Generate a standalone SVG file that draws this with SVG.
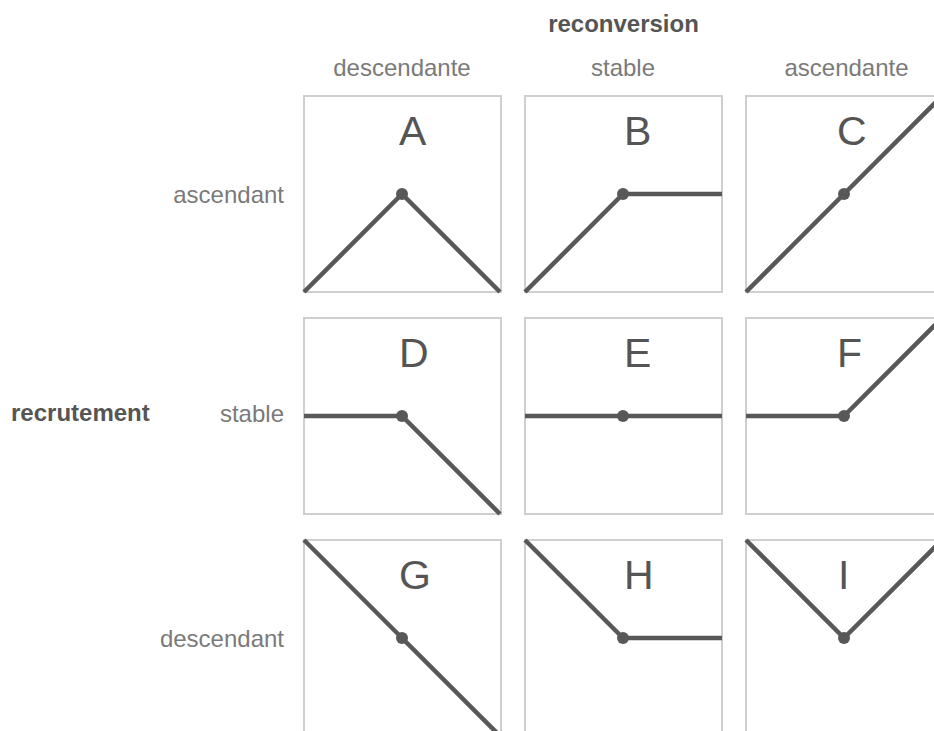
<svg xmlns="http://www.w3.org/2000/svg" width="934" height="731" viewBox="0 0 934 731">
<style>
.bg{fill:#ffffff}
.box{fill:#ffffff;stroke:#cfcfcf;stroke-width:2}
.ln{fill:none;stroke:#585858;stroke-width:4.5;stroke-linejoin:round;stroke-linecap:butt}
.dot{fill:#585858}
.lbl{font-family:"Liberation Sans",Arial,sans-serif;font-size:24px;fill:#7a7a7a}
.ttl{font-family:"Liberation Sans",Arial,sans-serif;font-size:24px;font-weight:bold;fill:#555555}
.let{font-family:"Liberation Sans",Arial,sans-serif;font-size:41px;fill:#555555}
</style>
<rect class="bg" x="0" y="0" width="934" height="731"/>
<g id="headers">
<text class="ttl" x="623.5" y="32" text-anchor="middle">reconversion</text>
<text class="lbl" x="402" y="76" text-anchor="middle">descendante</text>
<text class="lbl" x="623" y="76" text-anchor="middle">stable</text>
<text class="lbl" x="846.5" y="76" text-anchor="middle">ascendante</text>
<text class="ttl" x="11" y="421">recrutement</text>
<text class="lbl" x="284" y="203" text-anchor="end">ascendant</text>
<text class="lbl" x="284" y="422" text-anchor="end">stable</text>
<text class="lbl" x="284" y="647" text-anchor="end">descendant</text>
</g>
<g id="A"><rect class="box" x="304" y="96" width="197" height="196"/><text class="let" x="399" y="145">A</text></g>
<g id="B"><rect class="box" x="525" y="96" width="197" height="196"/><text class="let" x="624" y="145">B</text></g>
<g id="C"><rect class="box" x="746" y="96" width="197" height="196"/><text class="let" x="837" y="145">C</text></g>
<g id="D"><rect class="box" x="304" y="318" width="197" height="196"/><text class="let" x="399" y="367">D</text></g>
<g id="E"><rect class="box" x="525" y="318" width="197" height="196"/><text class="let" x="624" y="367">E</text></g>
<g id="F"><rect class="box" x="746" y="318" width="197" height="196"/><text class="let" x="837" y="367">F</text></g>
<g id="G"><rect class="box" x="304" y="540" width="197" height="196"/><text class="let" x="399" y="589">G</text></g>
<g id="H"><rect class="box" x="525" y="540" width="197" height="196"/><text class="let" x="624" y="589">H</text></g>
<g id="I"><rect class="box" x="746" y="540" width="197" height="196"/><text class="let" x="838" y="589">I</text></g>
<g id="connectors">
<polyline class="ln" points="304,292 402,194 500,292"/>
<polyline class="ln" points="525,292 623,194 722,194"/>
<polyline class="ln" points="746,292 844,194 944,94"/>
<polyline class="ln" points="304,416 402,416 500,514"/>
<polyline class="ln" points="525,416 623,416 722,416"/>
<polyline class="ln" points="746,416 844,416 944,316"/>
<polyline class="ln" points="304,540 402,638 500,736"/>
<polyline class="ln" points="525,540 623,638 722,638"/>
<polyline class="ln" points="746,540 844,638 944,538"/>
<circle class="dot" cx="402" cy="194" r="6"/>
<circle class="dot" cx="623" cy="194" r="6"/>
<circle class="dot" cx="844" cy="194" r="6"/>
<circle class="dot" cx="402" cy="416" r="6"/>
<circle class="dot" cx="623" cy="416" r="6"/>
<circle class="dot" cx="844" cy="416" r="6"/>
<circle class="dot" cx="402" cy="638" r="6"/>
<circle class="dot" cx="623" cy="638" r="6"/>
<circle class="dot" cx="844" cy="638" r="6"/>
</g>
</svg>
